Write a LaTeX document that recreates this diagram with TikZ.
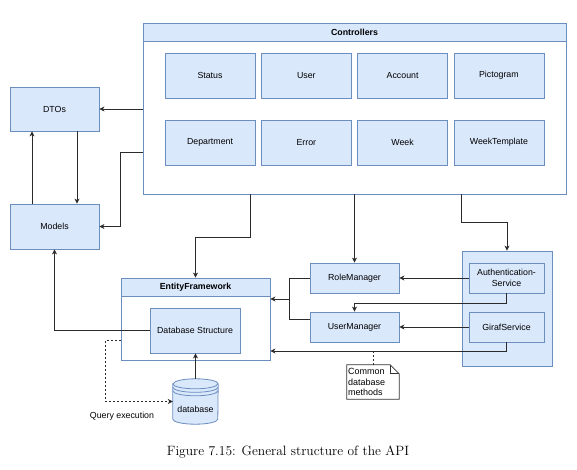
\documentclass[tikz,border=0pt]{standalone}
\usepackage{fontspec}
\newfontfamily\diofont{Liberation Sans}
\usetikzlibrary{calc,arrows.meta}
\definecolor{boxfill}{HTML}{DAE8FC}
\definecolor{boxline}{HTML}{6C8EBF}
\definecolor{wire}{HTML}{2B2B2B}
\tikzset{
  box/.style={draw=boxline, fill=boxfill, line width=0.8pt, align=center, inner sep=1pt,
    font=\diofont\fontsize{8.8}{10.5}\selectfont},
  ctlbox/.style={box, minimum width=90pt, minimum height=45pt},
  smallbox/.style={box, minimum width=89pt, minimum height=30pt},
  svcbox/.style={box, minimum width=75pt, minimum height=30pt},
  cont/.style={draw=boxline, fill=white, line width=0.8pt, inner sep=0pt},
  head/.style={box, font=\diofont\bfseries\fontsize{8.8}{10.5}\selectfont},
  wire/.style={draw=wire, line width=0.8pt},
  arr/.style={wire, -{Stealth[length=5pt,width=5pt,inset=1.5pt]}},
  dots/.style={dash pattern=on 2pt off 2pt},
  notebox/.style={align=left, inner sep=1pt, minimum width=52pt, minimum height=34pt,
    text width=50pt, font=\diofont\fontsize{9}{10.5}\selectfont},
  lab/.style={font=\diofont\fontsize{8.8}{10.5}\selectfont},
}

\begin{document}
\begin{tikzpicture}[x=1pt,y=-1pt]
  \path[fill=white] (0,0) rectangle (577,470);
  \useasboundingbox (0,0) rectangle (577,470);

  \node[box, minimum width=89pt, minimum height=44pt] (dtos) at (54.5,109) {DTOs};
  \node[box, minimum width=89pt, minimum height=45pt] (models) at (54.5,226.5) {Models};

  \node[cont, minimum width=423pt, minimum height=171pt] (ctrl) at (354.5,108.5) {};
  \node[head, minimum width=423pt, minimum height=18pt] (ctrlhead) at (354.5,32) {Controllers};
  \foreach \nm/\txt/\col/\row in {status/Status/0/0, user/User/1/0, account/Account/2/0,
      pictogram/Pictogram/3/0, department/Department/0/1, error/Error/1/1, week/Week/2/1,
      weektemplate/WeekTemplate/3/1}{
    \node[ctlbox] (\nm) at ({210+96.3*\col},{75.5+67*\row}) {\txt};
  }

  \node[cont, minimum width=149pt, minimum height=82pt] (ef) at (195.5,319) {};
  \node[head, minimum width=149pt, minimum height=18pt] (efhead) at (195.5,287) {EntityFramework};
  \node[ctlbox] (dbs) at (195,330.5) {Database Structure};

  \node[minimum width=45pt, minimum height=45pt, inner sep=0pt, lab] (db) at (195.5,401.5) {};
  \draw[boxline, fill=boxfill, line width=0.8pt] ($(db.north west)+(0,5)$) -- ($(db.south west)+(0,-5)$)
    arc[start angle=180, end angle=360, x radius=22.5pt, y radius=5pt]
    -- ($(db.north east)+(0,5)$)
    arc[start angle=0, end angle=180, x radius=22.5pt, y radius=5pt] -- cycle;
  \foreach \dy in {5,8.5,12}{
    \draw[boxline, line width=0.8pt] ($(db.north west)+(0,\dy)$)
      arc[start angle=180, end angle=360, x radius=22.5pt, y radius=5pt];
  }
  \node[lab] at (db) {\raisebox{-11pt}[0pt][0pt]{database}};

  \node[smallbox] (rm) at (354.5,278) {RoleManager};
  \node[smallbox] (um) at (354.5,327) {UserManager};

  \node[box, minimum width=90pt, minimum height=115pt] (svc) at (507,308.5) {};
  \node[svcbox] (auth) at (506.5,278) {Authentication-\\Service};
  \node[svcbox] (giraf) at (506.5,327) {GirafService};

  \node[notebox] (note) at (373,382) {};
  \draw[draw=black!80, fill=white, line width=0.7pt] (note.south west) -- (note.north west)
    -- ($(note.north east)+(-9,0)$) -- ($(note.north east)+(0,9)$) -- (note.south east) -- cycle;
  \draw[draw=black!80, line width=0.7pt] ($(note.north east)+(-9,0)$) -- ($(note.north east)+(-9,9)$)
    -- ($(note.north east)+(0,9)$);
  \node[notebox] at (note) {Common\\database\\methods};

  \node[lab] (qlab) at (122,416) {Query execution};
  \node[font=\fontsize{13.5}{15}\selectfont] (caption) at (288,452)
    {Figure 7.15: General structure of the API};

  \draw[arr] (ctrl.west |- dtos) -- (dtos.east);
  \draw[arr] ($(ctrl.west)+(0,43.5)$) -- ++(-22,0) |- (models.east);
  \draw[arr] ($(dtos.south)+(22.5,0)$) -- ($(models.north)+(22.5,0)$);
  \draw[arr] ($(models.north)+(-22.5,0)$) -- ($(dtos.south)+(-22.5,0)$);
  \draw[arr] ($(ctrl.south)+(-104.5,0)$) -- ++(0,43) -| (ef.north);
  \draw[arr] (ctrl.south) -- (rm.north);
  \draw[arr] ($(ctrl.south)+(106.5,0)$) -- ++(0,28) -| (svc.north);
  \draw[arr] (auth.west) -- (rm.east);
  \draw[arr] (auth.south) -- ++(0,10) -| (um.north);
  \draw[arr] (giraf.west) -- (um.east);
  \draw[arr] (giraf.south) |- ($(ef.east)+(0,32)$);
  \draw[wire] (rm.west) -- ++(-20,0) |- ($(um.west)+(0,-8)$);
  \draw[arr] ($(rm.west)+(-20,21)$) -- ($(ef.east)+(0,-20)$);
  \draw[arr] (dbs.west) -| (models.south);
  \draw[arr] (db.north) -- (db.north |- dbs.south);
  \draw[arr, dots] ($(ef.west)+(0,21)$) -- ++(-15,0) |- (db.west);
  \draw[wire, dots] (note.north) -- ++(0,-14);
\end{tikzpicture}
\end{document}
